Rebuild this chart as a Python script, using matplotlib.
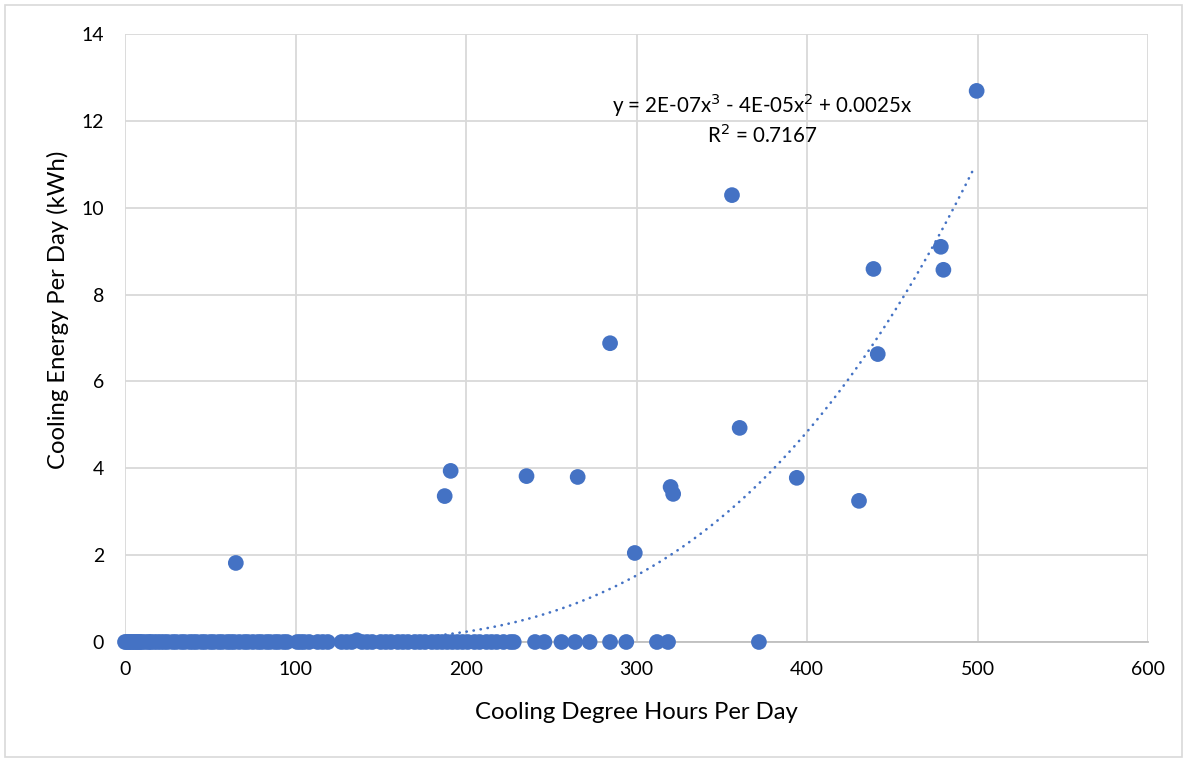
import matplotlib
matplotlib.use("Agg")
import matplotlib.pyplot as plt
import numpy as np
from matplotlib.patches import Rectangle

plt.rcParams['font.family'] = ['Lato', 'DejaVu Sans']

# Non-zero observations (cooling degree hours, kWh)
pos_x = [65, 187.5, 191, 235.5, 265.5, 284.5, 299, 320, 321.5, 356, 360.5, 394, 430.5, 439, 441.5, 478.5, 480, 499.5]
pos_y = [1.82, 3.36, 3.94, 3.82, 3.80, 6.88, 2.05, 3.57, 3.41, 10.29, 4.93, 3.78, 3.25, 8.59, 6.63, 9.10, 8.57, 12.69]

# Zero-energy days
zero_x = [0, 1, 2, 3, 4, 5, 6, 7, 8, 9, 10, 12, 14, 15, 17, 19, 21, 23, 25, 28, 30, 33, 35,
          38, 40, 42, 45, 47, 50, 52, 55, 57, 60, 62, 64, 67, 70, 72, 75, 78, 80, 83, 85, 88,
          90, 93, 95, 101, 103, 105, 108, 113, 116, 119, 127, 130, 133, 139, 142, 145,
          150, 153, 156, 160, 163, 166, 170, 173, 176, 180, 183, 186, 189, 192, 195, 198,
          201, 205, 208, 212, 215, 218, 222, 226, 228, 240.5, 246, 256, 264, 272.5, 284.5,
          294, 312, 318.5, 371.8]
zero_y = [0.0] * len(zero_x)
extra_x = [136]
extra_y = [0.04]

# Trendline (cubic through origin, as displayed)
trend_coef = [1.53e-7, -3.72e-5, 0.0025]
trend_range = [0, 498]
equation_text = "y = 2E-07x$^3$ - 4E-05x$^2$ + 0.0025x"
r2_text = "R$^2$ = 0.7167"

x_ticks = [0, 100, 200, 300, 400, 500, 600]
y_ticks = [0, 2, 4, 6, 8, 10, 12, 14]

blue = "#4472C4"
grid = "#D9D9D9"

fig = plt.figure(figsize=(11.85, 7.6), dpi=100)
fig.patches.append(Rectangle((5/1185, 3/760), 1177/1185, 752/760, transform=fig.transFigure,
                             fill=False, edgecolor=grid, linewidth=1.2))
ax = fig.add_axes([125/1185, 1 - 642/760, 1023/1185, 608/760])

xs = np.linspace(trend_range[0], trend_range[1], 400)
a, b, c = trend_coef
ys = a * xs**3 + b * xs**2 + c * xs
ax.plot(xs, ys, color=blue, linewidth=1.9, linestyle=(0, (0.1, 2.6)),
        dash_capstyle='round', zorder=2)

ms = 128
ax.scatter(zero_x, zero_y, s=ms, color=blue, edgecolors='none', zorder=3, clip_on=False)
ax.scatter(extra_x, extra_y, s=ms, color=blue, edgecolors='none', zorder=3, clip_on=False)
ax.scatter(pos_x, pos_y, s=ms, color=blue, edgecolors='none', zorder=3, clip_on=False)

ax.set_xlim(0, 600)
ax.set_ylim(0, 14)
ax.set_xticks(x_ticks)
ax.set_yticks(y_ticks)
ax.grid(True, color=grid, linewidth=1.3, zorder=0)
ax.set_axisbelow(True)
for s in ['top', 'right', 'left']:
    ax.spines[s].set_visible(False)
ax.spines['bottom'].set_color('#BFBFBF')
ax.spines['bottom'].set_linewidth(1.3)
ax.tick_params(axis='both', length=0, labelsize=14, colors='black')
ax.tick_params(axis='x', pad=14)
ax.tick_params(axis='y', pad=15)

ax.set_xlabel("Cooling Degree Hours Per Day", fontsize=17.2, labelpad=17)
ax.set_ylabel("Cooling Energy Per Day (kWh)", fontsize=17.2, labelpad=9)
ax.yaxis.label.set_y(0.546)

ax.text(0.623, 0.883, equation_text, transform=ax.transAxes, fontsize=14.8, ha='center', va='center')
ax.text(0.623, 0.834, r2_text, transform=ax.transAxes, fontsize=14.8, ha='center', va='center')

fig.savefig("out.png", dpi=100)
